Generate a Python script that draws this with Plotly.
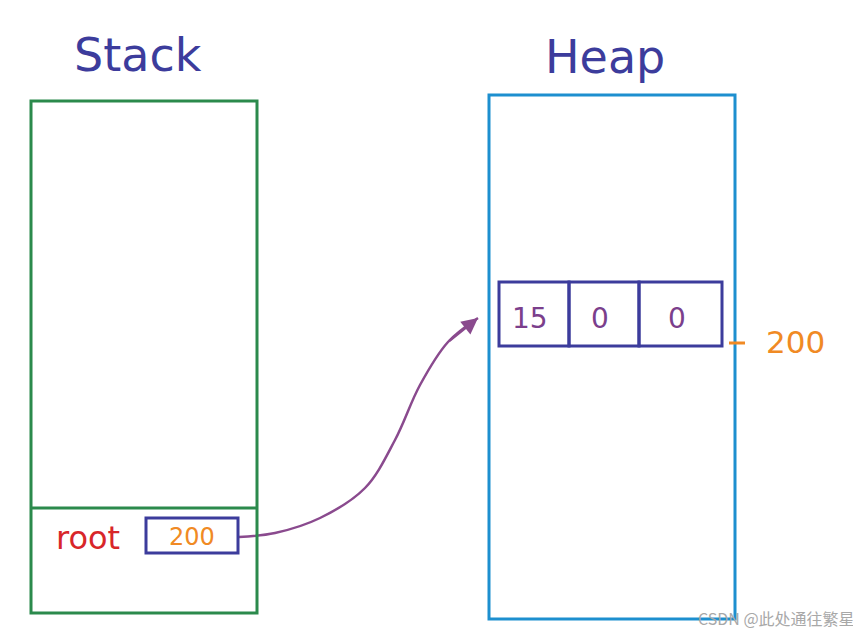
import plotly.graph_objects as go

# titles and labels
titles = ["Stack", "Heap"]
title_x = [138, 605]
title_y = [55, 57]

# heap object fields
heap_values = ["15", "0", "0"]
cell_x0 = [499, 569, 639]
cell_x1 = [569, 639, 722]
heap_address = "200"

# stack variable
var_name = "root"
var_value = "200"

# pointer curve (stack slot -> heap object)
arrow_x = [239, 275, 320, 365, 395, 420, 448, 478]
arrow_y = [537, 533, 518, 488, 440, 385, 342, 318]

fig = go.Figure()

# pointer curve
fig.add_trace(go.Scatter(x=arrow_x, y=arrow_y, mode="lines",
                         line=dict(color="#8a4a8e", width=2.5, shape="spline"),
                         hoverinfo="skip", showlegend=False))

green = "#2b8a4c"
blue = "#1d8fcf"
navy = "#3c3c9c"

# stack box
fig.add_shape(type="rect", x0=31, x1=257, y0=101, y1=613, line=dict(color=green, width=3))
fig.add_shape(type="line", x0=31, x1=257, y0=508, y1=508, line=dict(color=green, width=3))
fig.add_shape(type="rect", x0=146, x1=238, y0=518, y1=553, line=dict(color=navy, width=3))

# heap box
fig.add_shape(type="rect", x0=489, x1=735, y0=95, y1=619, line=dict(color=blue, width=3))
for x0, x1 in zip(cell_x0, cell_x1):
    fig.add_shape(type="rect", x0=x0, x1=x1, y0=282, y1=346, line=dict(color=navy, width=3))

# address tick
fig.add_shape(type="line", x0=729, x1=745, y0=343, y1=343, line=dict(color="#f08a24", width=3))

hand = "DejaVu Sans"
for t, x, y in zip(titles, title_x, title_y):
    fig.add_annotation(x=x, y=y, text=t, showarrow=False,
                       font=dict(family=hand, size=46, color=navy))

for v, x0, x1 in zip(heap_values, cell_x0, cell_x1):
    fig.add_annotation(x=(x0 + x1) / 2 - 4, y=318, text=v, showarrow=False,
                       font=dict(family=hand, size=28, color="#7b3f8c"))

fig.add_annotation(x=795, y=342, text=heap_address, showarrow=False,
                   font=dict(family=hand, size=31, color="#f08a24"))
fig.add_annotation(x=88, y=538, text=var_name, showarrow=False,
                   font=dict(family=hand, size=32, color="#d8262a"))
fig.add_annotation(x=192, y=537, text=var_value, showarrow=False,
                   font=dict(family=hand, size=24, color="#f08a24"))

# arrow head
fig.add_annotation(x=arrow_x[-1], y=arrow_y[-1], ax=arrow_x[-2], ay=arrow_y[-2],
                   xref="x", yref="y", axref="x", ayref="y", text="",
                   showarrow=True, arrowhead=2, arrowsize=1.3, arrowwidth=2.5,
                   arrowcolor="#8a4a8e")

# watermark
fig.add_annotation(x=857, y=618, text="CSDN @此处通往繁星", showarrow=False, xanchor="right",
                   font=dict(family="Noto Sans CJK SC", size=16, color="#a8a8a8"))

# page body has an 8px margin, so the plot starts at (8, 8)
fig.update_xaxes(range=[8, 861], visible=False, fixedrange=True)
fig.update_yaxes(range=[634, 8], visible=False, fixedrange=True)
fig.update_layout(width=853, height=626, margin=dict(l=0, r=0, t=0, b=0),
                  plot_bgcolor="white", paper_bgcolor="white")

fig.write_html("out.html")
